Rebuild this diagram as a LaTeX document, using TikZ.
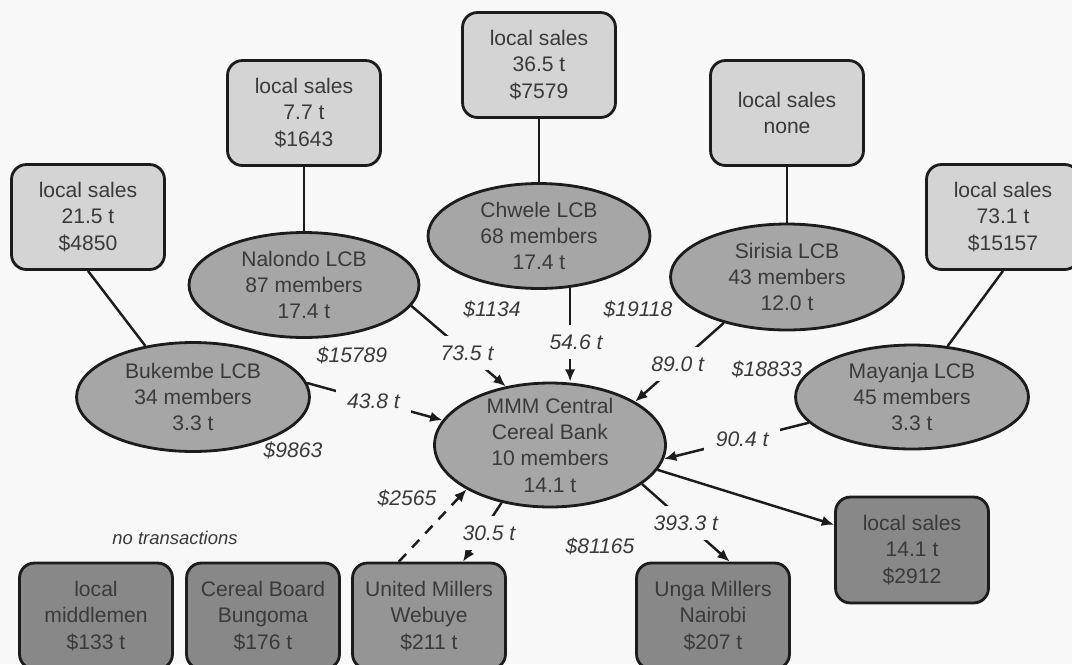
\documentclass[tikz,border=0pt]{standalone}
\usepackage{fontspec}
\setmainfont{Liberation Sans}
\usetikzlibrary{arrows.meta,shapes.geometric}

\definecolor{bg}{HTML}{F8F8F8}
\definecolor{boxlight}{HTML}{D4D4D4}
\definecolor{ellfill}{HTML}{A6A6A6}
\definecolor{boxdark}{HTML}{888888}
\definecolor{boxmid}{HTML}{959595}
\definecolor{ink}{HTML}{3A3A3A}
\definecolor{edge}{HTML}{1C1C1C}

\begin{document}
\begin{tikzpicture}[x=0.02cm,y=-0.02cm,
  font=\fontsize{12}{15}\selectfont,
  salesbox/.style={draw=edge, line width=1.6pt, rounded corners=8.5pt, fill=boxlight,
    text=ink, align=center, minimum width=3.06cm, minimum height=2.1cm, inner sep=2pt},
  buyerbox/.style={salesbox, fill=boxdark, minimum height=2.12cm},
  lcb/.style={ellipse, draw=edge, line width=1.6pt, fill=ellfill, text=ink,
    align=center, inner sep=-8pt},
  link/.style={draw=edge, line width=1.4pt},
  flow/.style={link, -{Latex[length=7pt,width=6pt]}},
  qty/.style={fill=bg, text=ink, font=\fontsize{12}{15}\selectfont\itshape,
    inner xsep=6.5pt, inner ysep=5.5pt},
  money/.style={text=ink, font=\fontsize{12}{15}\selectfont\itshape, inner sep=0pt},
]
\useasboundingbox (0,0) rectangle (1072,664);
\clip (0,0) rectangle (1072,664);
\fill[bg] (0,0) rectangle (1072,664);

% local sales of each local cereal bank
\node[salesbox] (bkbox)  at (88,217)   {local sales\\21.5 t\\\$4850};
\node[salesbox] (nalbox) at (304,113)  {local sales\\7.7 t\\\$1643};
\node[salesbox] (chwbox) at (539,65)   {local sales\\36.5 t\\\$7579};
\node[salesbox] (sirbox) at (787,113)  {local sales\\none};
\node[salesbox] (mybox)  at (1003,217) {local sales\\73.1 t\\\$15157};

% local cereal banks and the central bank
\node[lcb, minimum width=4.66cm, minimum height=2.18cm] (bk)  at (193,397) {Bukembe LCB\\34 members\\3.3 t};
\node[lcb, minimum width=4.6cm,  minimum height=2.1cm]  (nal) at (304,285) {Nalondo LCB\\87 members\\17.4 t};
\node[lcb, minimum width=4.44cm, minimum height=2.1cm]  (chw) at (539,236) {Chwele LCB\\68 members\\17.4 t};
\node[lcb, minimum width=4.66cm, minimum height=2.12cm] (sir) at (787,277) {Sirisia LCB\\43 members\\12.0 t};
\node[lcb, minimum width=4.66cm, minimum height=2.08cm] (my)  at (912,397) {Mayanja LCB\\45 members\\3.3 t};
\node[lcb, minimum width=4.62cm, minimum height=2.48cm] (mmm) at (550,445) {MMM Central\\Cereal Bank\\10 members\\14.1 t};

% buyers
\node[buyerbox] (mid) at (96,616)  {local\\middlemen\\\$133 t};
\node[buyerbox] (cbb) at (263,616) {Cereal Board\\Bungoma\\\$176 t};
\node[buyerbox, fill=boxmid] (um) at (429,616) {United Millers\\Webuye\\\$211 t};
\node[buyerbox] (ung) at (713,616) {Unga Millers\\Nairobi\\\$207 t};
\node[buyerbox] (ls)  at (912,550) {local sales\\14.1 t\\\$2912};

% local sales links
\draw[link] (bkbox.south)  -- (bk.133);
\draw[link] (nalbox.south) -- (nal.north);
\draw[link] (chwbox.south) -- (chw.north);
\draw[link] (sirbox.south) -- (sir.north);
\draw[link] (mybox.south)  -- (my.55);

% grain flows into the central bank
\draw[flow] (bk.7)    -- node[qty, pos=0.49] {43.8 t} (mmm.167);
\draw[flow] (nal.349) -- node[qty, pos=0.59] {73.5 t} (mmm.127);
\draw[flow] (chw.301) -- node[qty, pos=0.575, xshift=3.4pt] {54.6 t} (chw.301 |- mmm.north);
\draw[flow] (sir.216) -- node[qty, pos=0.52] {89.0 t} (mmm.27);
\draw[flow] (my.194)  -- node[qty, pos=0.46] {90.4 t} (mmm.353);

% grain flows out of the central bank
\draw[flow] (mmm.347) -- (ls.162);
\draw[flow] (mmm.337) -- node[qty, pos=0.5] {393.3 t} (ung.73);
\draw[flow] (mmm.230) -- node[qty, pos=0.51, xshift=4pt] {30.5 t} (um.58);
\draw[flow, dash pattern=on 6pt off 5pt] (um.119) -- (mmm.208);

% payments
\node[money] (pay1) at (352,355) {\$15789};
\node[money] (pay2) at (293,450) {\$9863};
\node[money] (pay3) at (492,309) {\$1134};
\node[money] (pay4) at (638,309) {\$19118};
\node[money] (pay5) at (767,369) {\$18833};
\node[money] (pay6) at (407,498) {\$2565};
\node[money] (pay7) at (600,546) {\$81165};
\node[money, font=\fontsize{10.5}{12}\selectfont\itshape] (none) at (175,538) {no transactions};
\end{tikzpicture}
\end{document}
